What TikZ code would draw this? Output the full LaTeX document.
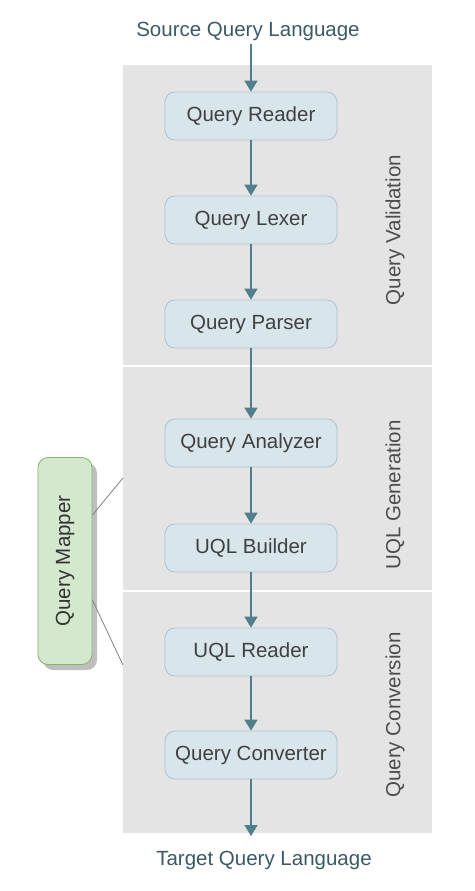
\documentclass[tikz,border=0pt]{standalone}
\usepackage{fontspec}
\setmainfont{Liberation Sans}
\usetikzlibrary{arrows.meta}
\definecolor{bandgray}{HTML}{E4E4E4}
\definecolor{stepfill}{HTML}{D8E6EC}
\definecolor{stepline}{HTML}{A9C3CD}
\definecolor{flowline}{HTML}{4F7F8A}
\definecolor{mapfill}{HTML}{D3E8CC}
\definecolor{mapline}{HTML}{82B366}
\definecolor{labeltext}{HTML}{3A5A66}
\begin{document}
\begin{tikzpicture}[x=1pt, y=-1pt, font=\fontsize{20.5}{24}\selectfont,
    stepbox/.style={draw=stepline, fill=stepfill, rounded corners=10pt, minimum width=172pt, minimum height=48pt, text=black!75, line width=0.8pt},
    flow/.style={-{Triangle[length=11pt,width=13pt]}, draw=flowline, line width=1.6pt},
    band/.style={rotate=90, text=black!70}]
    %\draw [help lines] (0,0) grid[step=50] (474,891);
    \useasboundingbox (0,0) rectangle (474,891);
    % bands
    \fill[bandgray] (123,65) rectangle (432,365);
    \fill[bandgray] (123,367) rectangle (432,590);
    \fill[bandgray] (123,592) rectangle (432,833);
    \node[band] (valid) at (395,230) {Query Validation};
    \node[band] (gen) at (395,495) {UQL Generation};
    \node[band] (conv) at (395,715) {Query Conversion};
    % steps
    \node[text=labeltext] (src) at (248,31) {Source Query Language};
    \node[stepbox] (reader) at (251,116) {Query Reader};
    \node[stepbox] (lexer) at (251,220) {Query Lexer};
    \node[stepbox] (parser) at (251,324) {Query Parser};
    \node[stepbox] (analyzer) at (251,443) {Query Analyzer};
    \node[stepbox] (builder) at (251,548) {UQL Builder};
    \node[stepbox] (uqlreader) at (251,652) {UQL Reader};
    \node[stepbox] (converter) at (251,755) {Query Converter};
    \node[text=labeltext] (tgt) at (264,860) {Target Query Language};
    \coordinate (out) at (251,836);
    \draw[flow] (src.south -| reader.north) -- (reader);
    \draw[flow] (reader) -- (lexer);
    \draw[flow] (lexer) -- (parser);
    \draw[flow] (parser) -- (analyzer);
    \draw[flow] (analyzer) -- (builder);
    \draw[flow] (builder) -- (uqlreader);
    \draw[flow] (uqlreader) -- (converter);
    \draw[flow] (converter) -- (out);
    % mapper
    \fill[black!25, rounded corners=10pt] (43,463) rectangle (97,670);
    \node[draw=mapline, fill=mapfill, rounded corners=10pt, minimum width=207pt, minimum height=54pt, rotate=90, line width=0.8pt, text=black!80] (mapper) at (65,561) {Query Mapper};
    \coordinate (gentop) at (123,478);
    \coordinate (convtop) at (123,665);
    \draw[black!50, line width=0.8pt] (mapper.south |- 0,515) -- (gentop);
    \draw[black!50, line width=0.8pt] (mapper.south |- 0,600) -- (convtop);
\end{tikzpicture}
\end{document}
